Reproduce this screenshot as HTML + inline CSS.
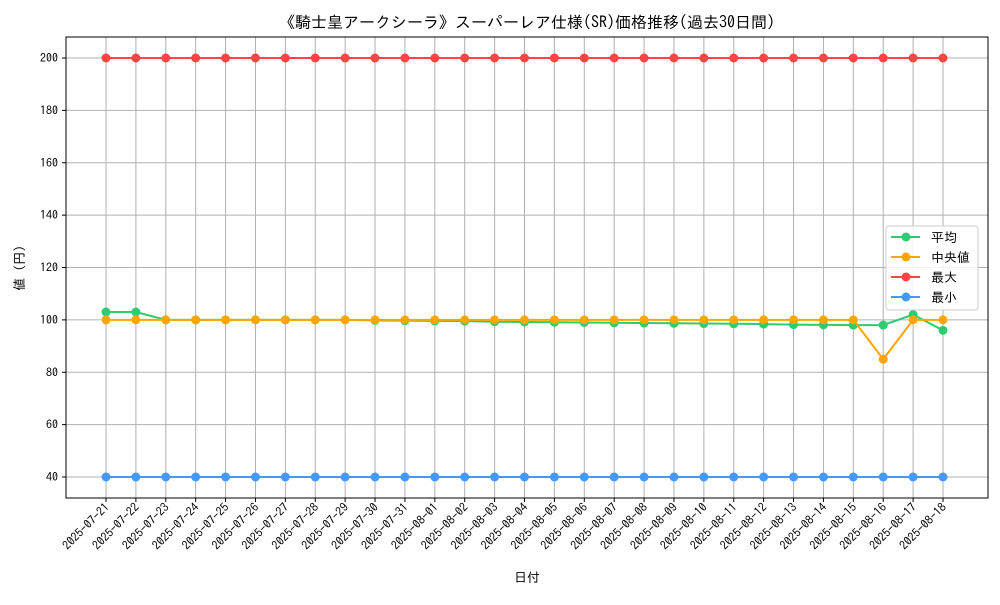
<!DOCTYPE html>
<html><head><meta charset="utf-8"><style>
body{margin:0;background:#fff;}
svg text{font-family:"IPAGothic","Noto Sans CJK JP",sans-serif;fill:#000;}
</style></head><body>
<svg id="c" width="1000" height="600" xmlns="http://www.w3.org/2000/svg"></svg>
<script>
const dates=["2025-07-21","2025-07-22","2025-07-23","2025-07-24","2025-07-25","2025-07-26","2025-07-27","2025-07-28","2025-07-29","2025-07-30","2025-07-31","2025-08-01","2025-08-02","2025-08-03","2025-08-04","2025-08-05","2025-08-06","2025-08-07","2025-08-08","2025-08-09","2025-08-10","2025-08-11","2025-08-12","2025-08-13","2025-08-14","2025-08-15","2025-08-16","2025-08-17","2025-08-18"];
const avgVals=[103,103,100,100,100,100,100,100,100,99.8,99.7,99.6,99.5,99.3,99.2,99.1,99,98.9,98.8,98.7,98.6,98.5,98.4,98.2,98.1,98,98,102,96];
const medVals=[100,100,100,100,100,100,100,100,100,100,100,100,100,100,100,100,100,100,100,100,100,100,100,100,100,100,85,100,100];
const maxVals=[200,200,200,200,200,200,200,200,200,200,200,200,200,200,200,200,200,200,200,200,200,200,200,200,200,200,200,200,200];
const minVals=[40,40,40,40,40,40,40,40,40,40,40,40,40,40,40,40,40,40,40,40,40,40,40,40,40,40,40,40,40];
const yTicks=[40,60,80,100,120,140,160,180,200];
const NS="http://www.w3.org/2000/svg";
const svg=document.getElementById('c');
const L=66,R=988,T=37,B=498;
const x=i=>106+i*(943-106)/(dates.length-1);
const y=v=>477-(v-40)*(477-58)/160;
function mk(t,a){const e=document.createElementNS(NS,t);for(const k in a)e.setAttribute(k,a[k]);svg.appendChild(e);return e;}
let e;
e=mk('text',{x:527,y:28,'text-anchor':'middle','font-size':16});e.textContent='《騎士皇アークシーラ》スーパーレア仕様(SR)価格推移(過去30日間)';


yTicks.forEach(v=>{
 e=mk('line',{x1:L,x2:R,y1:y(v),y2:y(v),stroke:'#b0b0b0','stroke-width':1});
 
 
 mk('line',{x1:L-4,x2:L,y1:y(v),y2:y(v),stroke:'#000'});
 e=mk('text',{x:L-8,y:y(v)+4,'text-anchor':'end','font-size':12});e.textContent=v;
 
 
});
dates.forEach((d,i)=>{
 e=mk('line',{x1:x(i),x2:x(i),y1:T,y2:B,stroke:'#b0b0b0','stroke-width':1});
 
 
 mk('line',{x1:x(i),x2:x(i),y1:B,y2:B+4,stroke:'#000'});
 e=mk('text',{x:x(i)+4,y:B+10,'text-anchor':'end','font-size':12,transform:`rotate(-45 ${x(i)+4} ${B+10})`});e.textContent=d;
 
 
});
e=mk('rect',{x:L,y:T,width:R-L,height:B-T,fill:'none',stroke:'#000','stroke-width':1});


e=mk('text',{x:527,y:582,'text-anchor':'middle','font-size':13});e.textContent='日付';


e=mk('text',{x:24,y:268,'text-anchor':'middle','font-size':13,transform:'rotate(-90 24 268)'});e.textContent='値 (円)';


const series=[['average',avgVals,'#2ecc71'],['median',medVals,'#ffa500'],['max',maxVals,'#ff4444'],['min',minVals,'#4499ff']];
series.forEach(([n,vals,c])=>{
 e=mk('polyline',{points:vals.map((v,i)=>x(i)+','+y(v)).join(' '),fill:'none',stroke:c,'stroke-width':2});
 
 
 vals.forEach((v,i)=>{e=mk('circle',{cx:x(i),cy:y(v),r:4.5,fill:c});
  
  });
});
e=mk('rect',{x:886,y:226,width:92,height:84,rx:3,fill:'#fff','fill-opacity':0.85,stroke:'#ccc'});


const labels=['平均',' 中央値','最大','最小'];
series.forEach(([n,vals,c],k)=>{
 const yy=237+k*20;
 mk('line',{x1:891,x2:920,y1:yy,y2:yy,stroke:c,'stroke-width':2});
 mk('circle',{cx:906,cy:yy,r:4.5,fill:c});
 e=mk('text',{x:931,y:yy+5,'font-size':13});e.textContent=labels[k];
 
 
});
</script>
</body></html>
